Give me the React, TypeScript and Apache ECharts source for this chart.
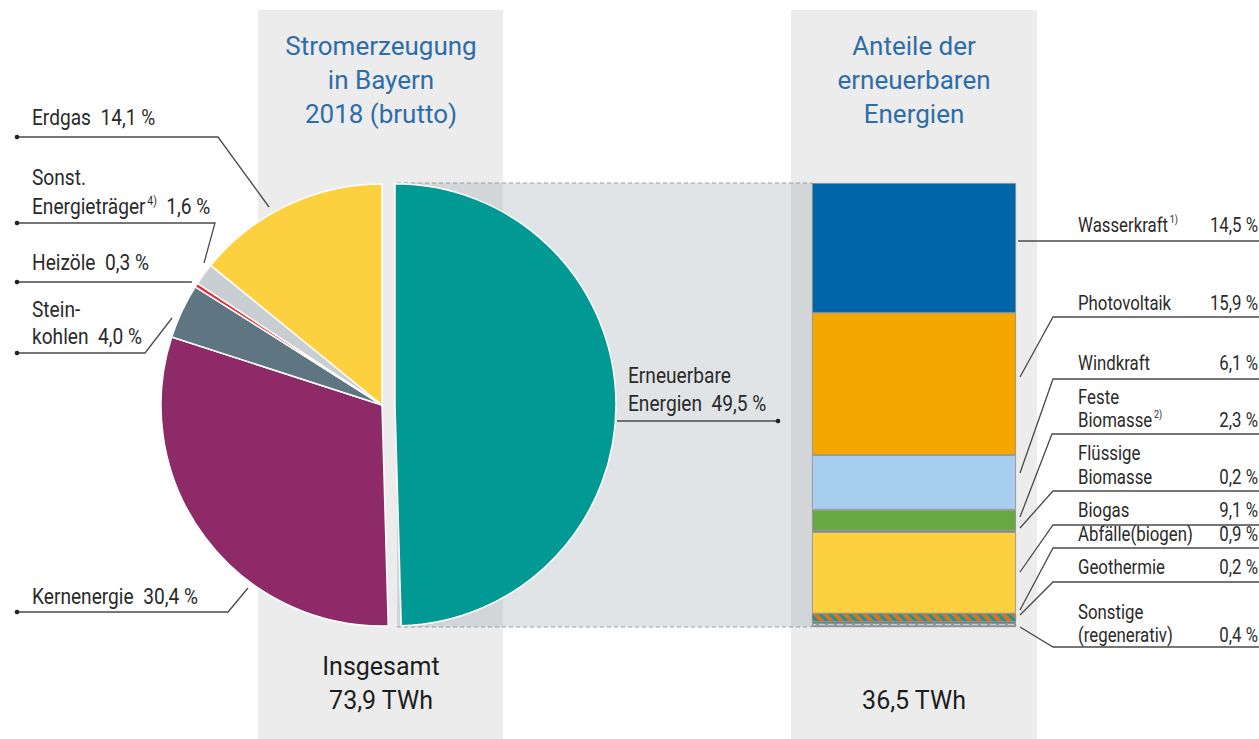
import React, { useEffect, useRef } from "react";
import * as echarts from "echarts";

// ---- data ----
const mixCategories = ["Erneuerbare Energien", "Kernenergie", "Steinkohlen", "Heizöle", "Sonst. Energieträger", "Erdgas"];
const mixValues = [49.5, 30.4, 4.0, 0.3, 1.6, 14.1];
const renewCategories = ["Wasserkraft", "Photovoltaik", "Windkraft", "Feste Biomasse", "Flüssige Biomasse", "Biogas", "Abfälle(biogen)", "Geothermie", "Sonstige (regenerativ)"];
const renewValues = [14.5, 15.9, 6.1, 2.3, 0.2, 9.1, 0.9, 0.2, 0.4];
const totalTWh = "73,9 TWh";
const renewTWh = "36,5 TWh";

// ---- styles ----
const mixColors = ["#009994", "#8e2a68", "#5f7682", "#e52b38", "#c9ced3", "#fdd03f"];
const renewColors = ["#0066a8", "#f5a700", "#a7cdef", "#68a843", "#2f7a3a", "#fdd03f", "#e46f1d", "#1f78b4", "#9aa5ae"];
const NARROW = "Roboto, 'Noto Sans', sans-serif";
const SANS = "Roboto, 'Noto Sans', sans-serif";
const TXT = "#2a2a2a";
const LINE = "#4a4a4a";
const BLUE = "#2e6da8";
const LCOND = 0.87;
const RCOND = 0.82;

const fmt = (v: number) => v.toFixed(1).replace(".", ",") + " %";

export default function App() {
  const ref = useRef<HTMLDivElement>(null);
  useEffect(() => {
    if (!ref.current) return;
    const chart = echarts.init(ref.current, null, { renderer: "svg", width: 1259, height: 739 });
    const renewTotal = renewValues.reduce((a, b) => a + b, 0);

    const g: any[] = [];
    // panels
    g.push({ type: "rect", shape: { x: 258, y: 10, width: 245, height: 740 }, style: { fill: "#ececec" }, z: 0 });
    g.push({ type: "rect", shape: { x: 791, y: 10, width: 246, height: 740 }, style: { fill: "#ececec" }, z: 0 });
    // connecting band
    g.push({ type: "rect", shape: { x: 397, y: 183, width: 415, height: 444 }, style: { fill: "rgba(143,155,166,0.27)" }, z: 1 });
    g.push({ type: "line", shape: { x1: 397, y1: 183, x2: 812, y2: 183 }, style: { stroke: "#9aa0a6", lineWidth: 1.2, lineDash: [4, 3] }, z: 1 });
    g.push({ type: "line", shape: { x1: 397, y1: 627, x2: 812, y2: 627 }, style: { stroke: "#9aa0a6", lineWidth: 1.2, lineDash: [4, 3] }, z: 1 });

    const text = (t: string, x: number, y: number, size: number, opts: any = {}, sx = 1) => {
      g.push({
        type: "text", x, y, z: 5, scaleX: sx,
        style: Object.assign({ text: t, fontSize: size, fontFamily: NARROW, fill: TXT, align: "left", verticalAlign: "middle" }, opts),
      });
    };
    const rich = (t: string, x: number, y: number, size: number, sx: number) => {
      g.push({
        type: "text", x, y, z: 5, scaleX: sx,
        style: {
          text: t, align: "left", verticalAlign: "middle", fill: TXT,
          rich: {
            a: { fontSize: size, fontFamily: NARROW, fill: TXT, lineHeight: size + 2 },
            s: { fontSize: Math.round(size * 0.55), fontFamily: NARROW, fill: TXT, verticalAlign: "top", padding: [0, 0, 0, 2] },
          },
        },
      });
    };
    const poly = (pts: number[][], dot = true) => {
      g.push({ type: "polyline", shape: { points: pts }, style: { stroke: LINE, lineWidth: 1.3, fill: null }, z: 5 });
      if (dot) g.push({ type: "circle", shape: { cx: pts[0][0], cy: pts[0][1], r: 2.3 }, style: { fill: "#222" }, z: 5 });
    };

    // titles
    const title = (lines: string[], cx: number) => {
      lines.forEach((l, i) => text(l, cx, 46 + i * 34, 26, { fontFamily: SANS, fill: BLUE, align: "center" }));
    };
    title(["Stromerzeugung", "in Bayern", "2018 (brutto)"], 381);
    title(["Anteile der", "erneuerbaren", "Energien"], 914);

    // bottom totals
    text("Insgesamt", 381, 666, 25, { fontFamily: SANS, align: "center", fill: "#1e1e1e" });
    text(totalTWh, 381, 700, 25, { fontFamily: SANS, align: "center", fill: "#1e1e1e" });
    text(renewTWh, 914, 700, 25, { fontFamily: SANS, align: "center", fill: "#1e1e1e" });

    // left labels (pie)
    const L = 32, LS = 22;
    const lt = (t: string, x: number, y: number) => text(t, x, y, LS, {}, LCOND);
    lt("Erdgas  " + fmt(mixValues[5]), L, 118);
    poly([[17, 137], [218, 137], [269, 207]]);
    lt("Sonst.", L, 178);
    rich("{a|Energieträger}{s|4)}{a|  " + fmt(mixValues[4]) + "}", L, 207, LS, LCOND);
    poly([[17, 223], [215, 223], [204, 263]]);
    lt("Heizöle  " + fmt(mixValues[3]), L, 263);
    poly([[17, 282], [192, 282]]);
    lt("Stein-", L, 310);
    lt("kohlen  " + fmt(mixValues[2]), L, 337);
    poly([[17, 353], [145, 353], [172, 318]]);
    lt("Kernenergie  " + fmt(mixValues[1]), L, 597);
    poly([[17, 612], [228, 612], [248, 588]]);

    // center label
    lt("Erneuerbare", 628, 376);
    lt("Energien  " + fmt(mixValues[0]), 628, 404);
    g.push({ type: "polyline", shape: { points: [[617, 421], [778, 421]] }, style: { stroke: LINE, lineWidth: 1.3, fill: null }, z: 5 });
    g.push({ type: "circle", shape: { cx: 778, cy: 421, r: 2.3 }, style: { fill: "#222" }, z: 5 });

    // right labels (bar)
    const RX = 1078, PR = 1258, RS = 20.5;
    const rightLayout = [
      { lines: ["{a|Wasserkraft}{s|1)}"], ys: [225], ly: 241, sx: 1018, ty: 241 },
      { lines: ["{a|Photovoltaik}"], ys: [303], ly: 317, sx: 1053, ty: 377 },
      { lines: ["{a|Windkraft}"], ys: [363], ly: 379, sx: 1053, ty: 473 },
      { lines: ["{a|Feste}", "{a|Biomasse}{s|2)}"], ys: [397, 420], ly: 434, sx: 1052, ty: 517 },
      { lines: ["{a|Flüssige}", "{a|Biomasse}"], ys: [453, 477], ly: 491, sx: 1053, ty: 528 },
      { lines: ["{a|Biogas}"], ys: [510], ly: 525, sx: 1053, ty: 572 },
      { lines: ["{a|Abfälle(biogen)}"], ys: [534], ly: 548, sx: 1053, ty: 610 },
      { lines: ["{a|Geothermie}"], ys: [567], ly: 582, sx: 1053, ty: 615 },
      { lines: ["{a|Sonstige}", "{a|(regenerativ)}"], ys: [612, 635], ly: 647, sx: 1053, ty: 627 },
    ];
    rightLayout.forEach((r, i) => {
      r.lines.forEach((l, j) => rich(l, RX, r.ys[j], RS, RCOND));
      text(fmt(renewValues[i]), PR, r.ys[r.ys.length - 1], RS, { align: "right" }, RCOND);
      if (r.sx === 1018) poly([[1018, r.ly], [1259, r.ly]], false);
      else poly([[1020, r.ty], [r.sx, r.ly], [1259, r.ly]], false);
    });

    const decals: any[] = renewValues.map(() => undefined);
    decals[6] = { symbol: "rect", color: "#139a95", dashArrayX: [1, 0], dashArrayY: [3, 4], rotation: Math.PI / 4 };
    decals[7] = { symbol: "rect", color: "#139a95", dashArrayX: [[5, 3]], dashArrayY: [2, 1] };
    decals[8] = { symbol: "rect", color: "rgba(255,255,255,0.75)", dashArrayX: [[6, 3]], dashArrayY: [1, 2] };

    const barSeries = renewCategories.map((name, i) => ({
      type: "bar",
      name,
      stack: "renew",
      barWidth: "100%",
      data: [renewValues[i]],
      silent: true,
      itemStyle: { color: renewColors[i], borderColor: "#8a8a8a", borderWidth: 0.8, decal: decals[i] },
      z: 3,
    }));

    chart.setOption({
      animation: false,
      aria: { enabled: false },
      graphic: { elements: g },
      grid: { left: 812, top: 183, width: 204, height: 444, containLabel: false },
      xAxis: { type: "category", data: ["Erneuerbare"], show: false },
      yAxis: { type: "value", min: 0, max: renewTotal, inverse: true, show: false },
      series: [
        {
          type: "pie",
          center: [382, 405],
          radius: 221,
          startAngle: 90,
          clockwise: true,
          selectedMode: "single",
          selectedOffset: 13,
          silent: true,
          label: { show: false },
          labelLine: { show: false },
          emphasis: { disabled: true },
          itemStyle: { borderColor: "#ffffff", borderWidth: 1.5 },
          data: mixCategories.map((name, i) => ({
            name,
            value: mixValues[i],
            selected: i === 0,
            itemStyle: { color: mixColors[i] },
          })),
          z: 3,
        },
        ...barSeries,
      ],
    });
    return () => chart.dispose();
  }, []);
  return <div ref={ref} style={{ position: "absolute", left: 0, top: 0, width: 1259, height: 739, background: "#fff" }} />;
}
